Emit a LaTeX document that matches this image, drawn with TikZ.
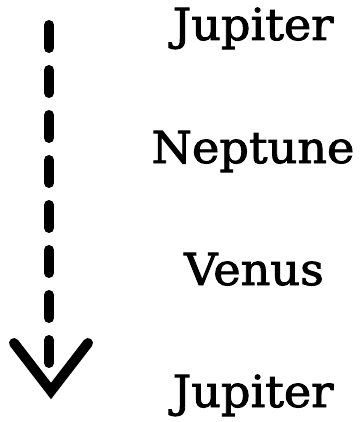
\documentclass[tikz,border=0pt]{standalone}
\usepackage{fontspec}
\setmainfont{DejaVu Serif}
\newfontfamily\planetfont[FakeStretch=1.05,FakeBold=2]{DejaVu Serif}
\begin{document}
\begin{tikzpicture}[x=1pt,y=-1pt,
  planet/.style={anchor=base,inner sep=0pt,font=\planetfont\fontsize{44}{44}\selectfont},
  shaft/.style={line width=10pt,line cap=round,dash pattern=on 23pt off 22pt},
  headline/.style={line width=10pt,line cap=round,line join=miter}]
\useasboundingbox (0,0) rectangle (361,422);
\node[planet] (p1) at (253,40) {Jupiter};
\node[planet] (p2) at (253,163) {Neptune};
\node[planet] (p3) at (254,285) {Venus};
\node[planet] (p4) at (253,407) {Jupiter};
\coordinate (start) at (49,25);
\coordinate (end) at (49,366);
\coordinate (tip) at (51,391);
\draw[shaft] (start) -- (end);
\draw[headline] ([xshift=-37pt,yshift=48pt]tip) -- (tip) -- ([xshift=37pt,yshift=48pt]tip);
\end{tikzpicture}
\end{document}
